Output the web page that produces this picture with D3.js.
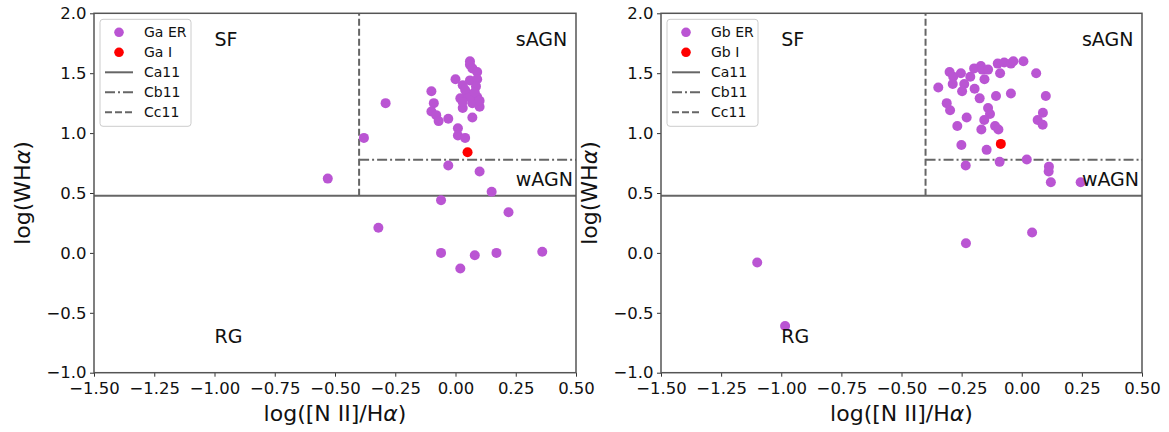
<!DOCTYPE html>
<html>
<head>
<meta charset="utf-8">
<script src="https://cdn.jsdelivr.net/npm/d3@7"></script>
<style>
  body { margin: 0; background: #fff; }
  text { font-family: "DejaVu Sans", sans-serif; }
</style>
</head>
<body>
<div class="chart"></div>
<script>
// --- data ---
const xTicks = [-1.5, -1.25, -1.0, -0.75, -0.5, -0.25, 0.0, 0.25, 0.5];
const yTicks = [2.0, 1.5, 1.0, 0.5, 0.0, -0.5, -1.0];

const gaErX = [-0.53, -0.38, -0.29, -0.32, -0.10, -0.09, -0.10, -0.08, -0.07, -0.03, -0.06, -0.06, -0.03, 0.02, 0.08, 0.17, 0.36, 0.22, 0.15, 0.10,
               0.01, 0.01, 0.04, 0.07, 0.03, 0.02, 0.00, 0.03, 0.06, 0.06, 0.07, 0.09, 0.06, 0.09, 0.085, 0.05, 0.07, 0.10, 0.09, 0.04, 0.06, 0.08, 0.03, 0.10];
const gaErY = [0.62, 0.96, 1.25, 0.21, 1.35, 1.25, 1.18, 1.15, 1.10, 1.12, 0.44, 0.00, 0.73, -0.13, -0.02, 0.00, 0.01, 0.34, 0.51, 0.68,
               1.04, 0.98, 0.96, 1.13, 1.21, 1.29, 1.45, 1.40, 1.60, 1.57, 1.54, 1.51, 1.44, 1.45, 1.39, 1.33, 1.25, 1.22, 1.30, 1.36, 1.30, 1.34, 1.26, 1.27];
const gaIX = [0.05];
const gaIY = [0.84];

const gbErX = [-0.347, -0.30, -0.285, -0.253, -0.287, -0.239, -0.248, -0.214, -0.198, -0.17, -0.164, -0.14, -0.155, -0.196, -0.175,
               -0.10, -0.073, -0.045, -0.035, 0.007, -0.09, 0.06, -0.107, -0.045, 0.10, -0.312, -0.298, -0.14, -0.132, -0.229,
               -0.156, 0.088, 0.066, 0.087, -0.268, -0.168, -0.111, -0.097, -0.251, -0.146, -0.233, -0.092, 0.021, 0.113, 0.112,
               0.121, 0.245, -0.232, 0.043, -1.10, -0.984];
const gbErY = [1.38, 1.51, 1.47, 1.50, 1.41, 1.41, 1.35, 1.47, 1.54, 1.56, 1.53, 1.53, 1.45, 1.37, 1.29,
               1.58, 1.59, 1.58, 1.60, 1.60, 1.50, 1.50, 1.31, 1.33, 1.31, 1.25, 1.19, 1.21, 1.16, 1.13,
               1.11, 1.17, 1.11, 1.07, 1.06, 1.03, 1.06, 1.03, 0.90, 0.86, 0.73, 0.76, 0.78, 0.72, 0.68,
               0.59, 0.59, 0.08, 0.17, -0.08, -0.61];
const gbIX = [-0.087];
const gbIY = [0.91];

// demarcation lines
const ca11 = 0.477;   // log WHa = 3 A
const cb11 = 0.778;   // log WHa = 6 A
const cc11 = -0.4;    // log [NII]/Ha

// region names and where they sit
const regNames = ["SF", "sAGN", "wAGN", "RG"];
const regX = [-1.0, 0.25, 0.25, -1.0];
const regY = [1.73, 1.73, 0.56, -0.75];

const W = 1169, H = 432;
const svg = d3.select(".chart").append("svg")
    .attr("width", W)
    .attr("height", H);

function panel(left, right, erX, erY, iX, iY, erName, iName) {
    const top = 13.3, bottom = 372.7;
    const x = d3.scaleLinear().domain([-1.5, 0.5]).range([left, right]);
    const y = d3.scaleLinear().domain([-1.0, 2.0]).range([bottom, top]);
    const g = svg.append("g");
    const lineCol = "#666";

    // region lines
    g.append("line")
        .attr("x1", x(-1.5)).attr("x2", x(0.5))
        .attr("y1", y(ca11)).attr("y2", y(ca11))
        .attr("stroke", lineCol).attr("stroke-width", 2);
    g.append("line")
        .attr("x1", x(cc11)).attr("x2", x(0.5))
        .attr("y1", y(cb11)).attr("y2", y(cb11))
        .attr("stroke", lineCol).attr("stroke-width", 2)
        .attr("stroke-dasharray", "10,3,2,3");
    g.append("line")
        .attr("x1", x(cc11)).attr("x2", x(cc11))
        .attr("y1", y(ca11)).attr("y2", y(2.0))
        .attr("stroke", lineCol).attr("stroke-width", 2)
        .attr("stroke-dasharray", "7,3");

    // points
    g.selectAll(".er")
        .data(erX.map((d, i) => [d, erY[i]]))
        .enter().append("circle")
        .attr("cx", d => x(d[0]))
        .attr("cy", d => y(d[1]))
        .attr("r", 5)
        .attr("fill", "#ba55d3");
    g.selectAll(".ri")
        .data(iX.map((d, i) => [d, iY[i]]))
        .enter().append("circle")
        .attr("cx", d => x(d[0]))
        .attr("cy", d => y(d[1]))
        .attr("r", 5)
        .attr("fill", "#ff0000");

    // region labels
    g.selectAll(".reg")
        .data(regNames)
        .enter().append("text")
        .attr("x", (d, i) => x(regX[i]))
        .attr("y", (d, i) => y(regY[i]))
        .attr("font-size", 19)
        .attr("fill", "#111")
        .text(d => d);

    // axes
    const xAxis = d3.axisBottom(x).tickValues(xTicks).tickSize(4)
        .tickFormat(d => d3.format(".2f")(d).replace("-", "\u2212"));
    const yAxis = d3.axisLeft(y).tickValues(yTicks).tickSize(4)
        .tickFormat(d => d3.format(".1f")(d).replace("-", "\u2212"));
    const gx = g.append("g").attr("transform", "translate(0," + bottom + ")").call(xAxis);
    const gy = g.append("g").attr("transform", "translate(" + left + ",0)").call(yAxis);
    [gx, gy].forEach(a => {
        a.select(".domain").remove();
        a.selectAll("line").attr("stroke", "#333");
        a.selectAll("text").attr("font-size", 16.5).attr("fill", "#111")
            .style("font-family", "DejaVu Sans");
    });
    gx.selectAll("text").attr("y", 10).attr("dy", "0.71em");
    gy.selectAll("text").attr("x", -7.5);

    // frame
    g.append("rect")
        .attr("x", left).attr("y", top)
        .attr("width", right - left).attr("height", bottom - top)
        .attr("fill", "none").attr("stroke", "#555").attr("stroke-width", 1.5);

    // axis labels
    const xl = g.append("text")
        .attr("x", (left + right) / 2).attr("y", 421)
        .attr("text-anchor", "middle").attr("font-size", 22).attr("fill", "#111");
    xl.append("tspan").text("log([N II]/H");
    xl.append("tspan").attr("font-style", "italic").text("\u03b1");
    xl.append("tspan").text(")");
    const yl = g.append("text")
        .attr("transform", "translate(" + (left - 64) + "," + ((top + bottom) / 2) + ")rotate(-90)")
        .attr("text-anchor", "middle").attr("font-size", 22).attr("fill", "#111");
    yl.append("tspan").text("log(WH");
    yl.append("tspan").attr("font-style", "italic").text("\u03b1");
    yl.append("tspan").text(")");

    // legend
    const lx = left + 6, ly = top + 6;
    g.append("rect")
        .attr("x", lx).attr("y", ly).attr("width", 91).attr("height", 107)
        .attr("rx", 3).attr("fill", "#fff").attr("fill-opacity", 0.85)
        .attr("stroke", "#ccc");
    const items = [
        { name: erName, type: "dot", col: "#ba55d3" },
        { name: iName, type: "dot", col: "#ff0000" },
        { name: "Ca11", type: "line", dash: null },
        { name: "Cb11", type: "line", dash: "10,3,2,3" },
        { name: "Cc11", type: "line", dash: "7,3" }
    ];
    items.forEach((it, i) => {
        const cy = ly + 13 + i * 20;
        if (it.type === "dot") {
            g.append("circle").attr("cx", lx + 19).attr("cy", cy).attr("r", 4.8).attr("fill", it.col);
        } else {
            g.append("line")
                .attr("x1", lx + 5).attr("x2", lx + 33)
                .attr("y1", cy).attr("y2", cy)
                .attr("stroke", lineCol).attr("stroke-width", 2)
                .attr("stroke-dasharray", it.dash);
        }
        g.append("text")
            .attr("x", lx + 44).attr("y", cy + 5)
            .attr("font-size", 14).attr("fill", "#111")
            .text(it.name);
    });
}

panel(94, 576, gaErX, gaErY, gaIX, gaIY, "Ga ER", "Ga I");
panel(661, 1142, gbErX, gbErY, gbIX, gbIY, "Gb ER", "Gb I");
</script>
</body>
</html>
